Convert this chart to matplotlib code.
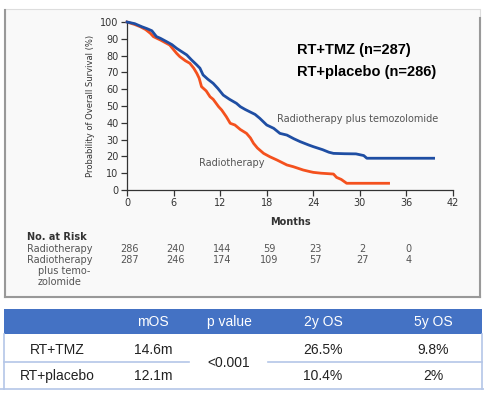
import numpy as np
import matplotlib.pyplot as plt
from matplotlib.patches import Rectangle
from matplotlib.lines import Line2D

W, H = 484, 394

# Kaplan-Meier curves (months, % surviving)
tmz_months = [0, 1.0, 1.9, 2.6, 3.2, 3.8, 4.3, 5.1, 5.8, 6.4, 7.0, 7.7, 8.3, 9.0, 9.4, 9.8,
              10.4, 11.1, 11.7, 12.4, 13.2, 14.1, 14.6, 15.2, 15.8, 16.5, 17.1, 18.0, 18.9,
              19.7, 20.6, 21.5, 22.3, 23.4, 24.0, 25.2, 26.0, 26.6, 28.0, 29.5, 30.5, 30.9, 39.5]
tmz_surv = [100, 99, 97.2, 96, 94.8, 91.3, 90.3, 88.3, 86.5, 84.3, 82.5, 80.4, 77.5, 74.4,
            72.5, 68.5, 66, 63.5, 60.5, 56.5, 54, 51.6, 49.6, 48, 46.6, 45, 42.7, 38.7, 36.7,
            33.7, 32.7, 30.5, 28.8, 26.8, 25.8, 24, 22.5, 21.8, 21.6, 21.5, 20.5, 18.9, 18.9]

rt_months = [0, 1.0, 1.7, 2.4, 3.0, 3.4, 4.3, 5.1, 5.5, 6.4, 6.8, 7.5, 8.1, 8.6, 9.0, 9.3,
             9.6, 10.2, 10.7, 11.1, 11.8, 12.2, 12.8, 13.3, 13.9, 14.6, 15.4, 15.9, 16.3,
             16.8, 17.1, 17.6, 18.4, 19.3, 20.6, 21.4, 22.7, 23.6, 24.0, 25.0, 26.6, 27.0,
             27.6, 28.3, 33.7]
rt_surv = [100, 98.5, 97.2, 95.5, 93.3, 91.3, 89.3, 87.3, 86.3, 81.3, 79.4, 77, 75.4, 72.5,
           69.4, 66.5, 61.5, 59, 55.5, 54, 49.6, 47.6, 43.6, 39.7, 38.7, 36, 33.7, 31, 27.8,
           25, 23.8, 21.8, 19.8, 17.9, 14.9, 13.9, 11.9, 10.9, 10.5, 10, 9.5, 7.5, 6.3, 4, 4]

x_ticks = [0, 6, 12, 18, 24, 30, 36, 42]
y_ticks = [0, 10, 20, 30, 40, 50, 60, 70, 80, 90, 100]

risk_months = [0, 6, 12, 18, 24, 30, 36]
risk_rt = [286, 240, 144, 59, 23, 2, 0]
risk_tmz = [287, 246, 174, 109, 57, 27, 4]

table_header = ["", "mOS", "p value", "2y OS", "5y OS"]
row_tmz = ["RT+TMZ", "14.6m", "26.5%", "9.8%"]
row_placebo = ["RT+placebo", "12.1m", "10.4%", "2%"]
p_value = "<0.001"

BLUE = "#1f4ea3"
RED = "#f4511e"
GRAY_TXT = "#555555"
TABLE_BLUE = "#4472c4"
LINE_BLUE = "#b4c6e7"


def fx(x):
    return x / W


def fy(y):
    return 1 - y / H


fig = plt.figure(figsize=(W / 100, H / 100), dpi=100)
fig.patch.set_facecolor("white")

# light gray panel around the KM plot
fig.add_artist(Rectangle((fx(5), fy(297)), fx(480) - fx(5), fy(9) - fy(297),
                         transform=fig.transFigure, facecolor="#f9f9f9",
                         edgecolor="#dddddd", linewidth=0.8, zorder=0))
for xs, ys in [([5, 5], [10, 297]), ([480, 480], [18, 297]), ([5, 480], [297, 297])]:
    fig.add_artist(Line2D([fx(v) for v in xs], [fy(v) for v in ys],
                          transform=fig.transFigure, color="#999999", linewidth=1.5))

ax = fig.add_axes([fx(127), fy(190), fx(453) - fx(127), fy(22) - fy(190)])
ax.set_facecolor("none")
ax.plot(tmz_months, tmz_surv, color=BLUE, linewidth=2, clip_on=False, zorder=3)
ax.plot(rt_months, rt_surv, color=RED, linewidth=2, clip_on=False, zorder=2)
ax.set_xlim(0, 42)
ax.set_ylim(0, 100)
ax.set_xticks(x_ticks)
ax.set_yticks(y_ticks)
for s in ["top", "right"]:
    ax.spines[s].set_visible(False)
for s in ["left", "bottom"]:
    ax.spines[s].set_color("#333333")
    ax.spines[s].set_linewidth(0.9)
ax.tick_params(direction="out", length=4, width=0.9, color="#333333",
               labelsize=7, labelcolor="#333333", pad=2)
ax.set_xlabel("Months", fontsize=7, fontweight="bold", color="#333333", labelpad=6)
ax.set_ylabel("Probability of Overall Survival (%)", fontsize=6, color="#333333", labelpad=4)

ax.text(19.3, 42, "Radiotherapy plus temozolomide", fontsize=7, color=GRAY_TXT,
        ha="left", va="center")
ax.text(9.3, 16, "Radiotherapy", fontsize=7, color=GRAY_TXT, ha="left", va="center")

fig.text(fx(297), fy(50), "RT+TMZ (n=287)", fontsize=10.5, fontweight="bold",
         family="Liberation Sans", ha="left", va="center")
fig.text(fx(297), fy(72), "RT+placebo (n=286)", fontsize=10.5, fontweight="bold",
         family="Liberation Sans", ha="left", va="center")

# number at risk
fig.text(fx(27), fy(237), "No. at Risk", fontsize=7, fontweight="bold", color="#333333",
         ha="left", va="center")
fig.text(fx(27), fy(249), "Radiotherapy", fontsize=7, color=GRAY_TXT, ha="left", va="center")
fig.text(fx(27), fy(260), "Radiotherapy", fontsize=7, color=GRAY_TXT, ha="left", va="center")
fig.text(fx(38), fy(271), "plus temo-", fontsize=7, color=GRAY_TXT, ha="left", va="center")
fig.text(fx(38), fy(282), "zolomide", fontsize=7, color=GRAY_TXT, ha="left", va="center")
for m, a, b in zip(risk_months, risk_rt, risk_tmz):
    xf = ax.transData.transform((m + 0.3, 0))[0] / fig.bbox.width
    fig.text(xf, fy(249), str(a), fontsize=7, color=GRAY_TXT, ha="center", va="center")
    fig.text(xf, fy(260), str(b), fontsize=7, color=GRAY_TXT, ha="center", va="center")

# summary table
col_x = [57, 153, 229, 323, 433]
fig.add_artist(Rectangle((fx(4), fy(334)), fx(482) - fx(4), fy(309) - fy(334),
                         transform=fig.transFigure, facecolor=TABLE_BLUE, edgecolor="none"))
for cx, t in zip(col_x, table_header):
    fig.text(fx(cx), fy(322), t, fontsize=10, color="white", family="Liberation Sans",
             ha="center", va="center")
for row, yy in [(row_tmz, 350), (row_placebo, 376)]:
    for cx, t in zip([col_x[0], col_x[1], col_x[3], col_x[4]], row):
        fig.text(fx(cx), fy(yy), t, fontsize=10, color="#222222", family="Liberation Sans",
                 ha="center", va="center")
fig.text(fx(col_x[2]), fy(363), p_value, fontsize=10, color="#222222",
         family="Liberation Sans", ha="center", va="center")

for xs, ys in [([4, 189], [362, 362]), ([268, 482], [362, 362]), ([0, 484], [389, 389]),
               ([4, 4], [334, 389]), ([482, 482], [334, 389])]:
    fig.add_artist(Line2D([fx(v) for v in xs], [fy(v) for v in ys],
                          transform=fig.transFigure, color=LINE_BLUE, linewidth=1.2))

fig.savefig("out.png", dpi=100)
